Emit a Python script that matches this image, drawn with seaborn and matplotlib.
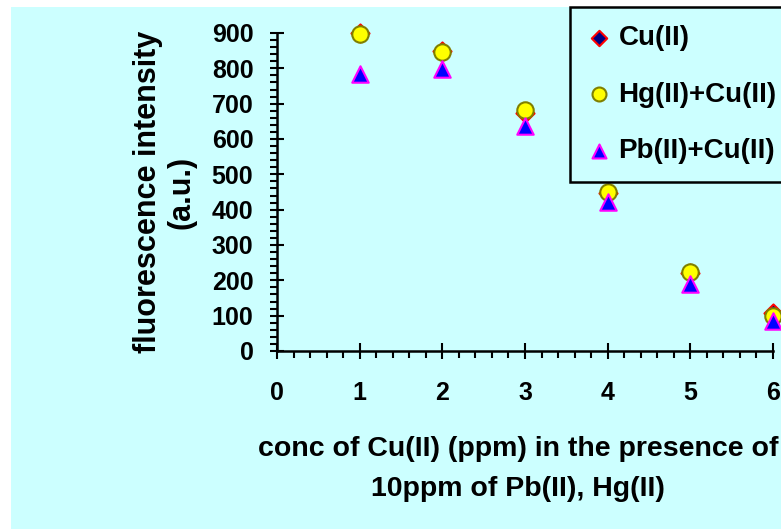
import numpy as np
import pandas as pd
import seaborn as sns
import matplotlib.pyplot as plt
from matplotlib.patches import Rectangle
from matplotlib.ticker import MultipleLocator

conc = [1, 2, 3, 4, 5, 6]
cu_only = [900, 849, 674, 448, 220, 107]
hg_cu = [897, 845, 683, 450, 224, 98]
pb_cu = [785, 797, 638, 423, 190, 85]

series_names = ["Cu(II)", "Hg(II)+Cu(II)", "Pb(II)+Cu(II)"]

BG = "#CCFFFF"


def main():
    sns.set_style("ticks")
    plt.rcParams['font.family'] = ['Liberation Sans', 'DejaVu Sans']
    plt.rcParams['font.weight'] = 'bold'
    for key in ["text.color", "axes.labelcolor", "xtick.color", "ytick.color"]:
        plt.rcParams[key] = "black"

    fig = plt.figure(figsize=(7.81, 5.29), dpi=100, facecolor="white")
    fig.add_artist(Rectangle((11 / 781, 0), 1, 1 - 7 / 529, transform=fig.transFigure,
                             facecolor=BG, edgecolor="none", zorder=-10))

    ax = fig.add_axes([277 / 781, 1 - 351 / 529, 496 / 781, 318 / 529])
    ax.set_facecolor("none")

    df = pd.DataFrame({"conc": conc, "cu": cu_only, "hg": hg_cu, "pb": pb_cu})

    sns.scatterplot(data=df, x="conc", y="cu", ax=ax, marker="D", s=85,
                    color="#000080", edgecolor="red", linewidth=1.5,
                    label=series_names[0], clip_on=False, zorder=3)
    sns.scatterplot(data=df, x="conc", y="hg", ax=ax, marker="o", s=140,
                    color="yellow", edgecolor="#808000", linewidth=1.5,
                    label=series_names[1], clip_on=False, zorder=4)
    sns.scatterplot(data=df, x="conc", y="pb", ax=ax, marker="^", s=140,
                    color="blue", edgecolor="magenta", linewidth=1.5,
                    label=series_names[2], clip_on=False, zorder=5)

    ax.set_xlim(0, 6)
    ax.set_ylim(0, 900)
    ax.xaxis.set_major_locator(MultipleLocator(1))
    ax.xaxis.set_minor_locator(MultipleLocator(0.2))
    ax.yaxis.set_major_locator(MultipleLocator(100))
    ax.yaxis.set_minor_locator(MultipleLocator(20))

    sns.despine(ax=ax)
    for side in ["left", "bottom"]:
        ax.spines[side].set_linewidth(1.8)
        ax.spines[side].set_color("black")

    ax.tick_params(axis="x", which="major", direction="inout", length=11, width=1.5,
                   labelsize=18, pad=16, colors="black")
    ax.tick_params(axis="y", which="major", direction="inout", length=10, width=1.5,
                   labelsize=18, pad=12, colors="black")
    ax.tick_params(which="minor", direction="out", length=5, width=1.5, colors="black")
    for lab in ax.get_xticklabels() + ax.get_yticklabels():
        lab.set_fontweight("bold")

    ax.set_xlabel("conc of Cu(II) (ppm) in the presence of\n10ppm of Pb(II), Hg(II)",
                  fontsize=20.5, fontweight="bold", linespacing=1.7, color="black")
    ax.xaxis.set_label_coords(241 / 496, -0.268)
    ax.set_ylabel("fluorescence intensity\n(a.u.)", fontsize=22, fontweight="bold",
                  linespacing=1.15, color="black")
    ax.yaxis.set_label_coords(-0.162, 0.5)

    ax.get_legend().remove()
    handles, labels = ax.get_legend_handles_labels()
    leg = fig.legend(handles, labels, loc="upper left",
                     bbox_to_anchor=(570 / 781, 1 - 7 / 529), borderaxespad=0,
                     prop={"family": "Liberation Sans", "weight": "bold", "size": 20},
                     frameon=True, fancybox=False, facecolor=BG, edgecolor="black",
                     framealpha=1, handlelength=0.8, handletextpad=0.3,
                     labelspacing=1.1, borderpad=0.65, markerscale=0.85)
    leg.get_frame().set_linewidth(1.8)
    for t in leg.get_texts():
        t.set_color("black")

    fig.savefig("out.png", dpi=100, facecolor=fig.get_facecolor())
    plt.close(fig)


if __name__ == "__main__":
    main()
